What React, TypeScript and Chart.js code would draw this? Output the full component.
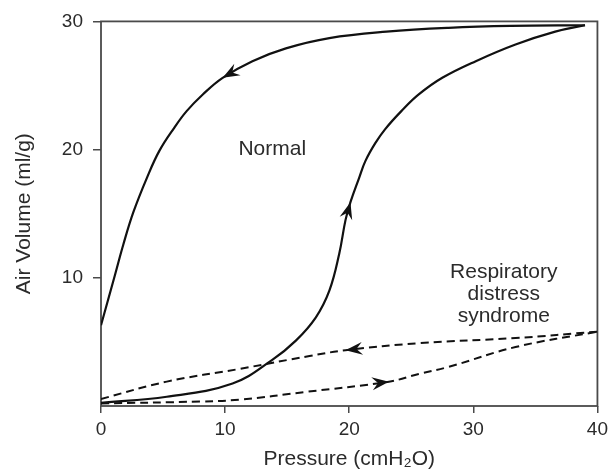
import React, { useEffect, useRef } from "react";
import { Chart, registerables } from "chart.js";

Chart.register(...registerables);

// ---- data ----
const xTickValues = [0, 10, 20, 30, 40];
const yTickValues = [10, 20, 30];

// Normal lung, deflation limb (drawn from 40 down to 0; listed by ascending pressure)
const normalDeflationP = [0, 1.12, 1.8, 2.6, 3.7, 4.7, 5.9, 6.9, 8.2, 9.8, 12.2, 14.9, 18.4, 23, 28, 33, 39.0];
const normalDeflationV = [6.3, 10.2, 12.6, 15.1, 17.8, 19.9, 21.7, 23.0, 24.3, 25.6, 26.9, 27.9, 28.7, 29.2, 29.5, 29.65, 29.7];

// Normal lung, inflation limb
const normalInflationP = [0, 5.3, 10.6, 13.8, 15.7, 17.3, 18.4, 19.2, 19.7, 20.1, 20.8, 21.3, 22.1, 22.9, 24.2, 25.6, 27.5, 30.2, 33.4, 36.6, 39.0];
const normalInflationV = [0.25, 0.72, 1.76, 3.6, 5.1, 6.9, 9.0, 11.9, 14.5, 15.9, 17.8, 19.1, 20.5, 21.6, 23.0, 24.3, 25.6, 26.9, 28.2, 29.2, 29.7];

// Respiratory distress syndrome, deflation limb (upper dashed)
const rdsDeflationP = [0, 5.3, 11.2, 16.8, 19.7, 25.6, 33.4, 40];
const rdsDeflationV = [0.55, 1.9, 2.9, 3.9, 4.35, 4.9, 5.3, 5.8];

// Respiratory distress syndrome, inflation limb (lower dashed)
const rdsInflationP = [0, 8, 11.2, 16.5, 23.2, 25.6, 28, 33.4, 40];
const rdsInflationV = [0.2, 0.35, 0.5, 1.1, 1.9, 2.5, 3.05, 4.6, 5.8];

// Arrowheads: tip position and a point behind the tip along the curve
const arrowTipP = [9.8, 20.1, 19.7, 23.2];
const arrowTipV = [25.6, 15.9, 4.35, 1.9];
const arrowTailP = [12.2, 19.7, 22, 20];
const arrowTailV = [26.9, 14.5, 4.6, 1.5];

// Annotations
const labelNormal = ["Normal"];
const labelNormalP = 13.8;
const labelNormalV = 20.0;
const labelRds = ["Respiratory", "distress", "syndrome"];
const labelRdsP = 32.45;
const labelRdsV = 10.4;

const toXY = (p: number[], v: number[]) => p.map((x, i) => ({ x, y: v[i] }));

const FONT = "'Liberation Sans', Arial, Helvetica, sans-serif";
const TEXT = "#2b2b2b";
const AXIS = "#4a4a4a";
const INK = "#111111";

const overlayPlugin = {
  id: "overlay",
  beforeDatasetsDraw(chart: any) {
    const { ctx, chartArea } = chart;
    ctx.save();
    ctx.strokeStyle = AXIS;
    ctx.lineWidth = 1.8;
    ctx.strokeRect(chartArea.left, chartArea.top, chartArea.right - chartArea.left, chartArea.bottom - chartArea.top);
    ctx.restore();
  },
  afterDatasetsDraw(chart: any) {
    const { ctx } = chart;
    const xs = chart.scales.x;
    const ys = chart.scales.y;
    ctx.save();
    // arrowheads
    ctx.fillStyle = INK;
    for (let i = 0; i < arrowTipP.length; i++) {
      const tx = xs.getPixelForValue(arrowTipP[i]);
      const ty = ys.getPixelForValue(arrowTipV[i]);
      const bx = xs.getPixelForValue(arrowTailP[i]);
      const by = ys.getPixelForValue(arrowTailV[i]);
      const ang = Math.atan2(ty - by, tx - bx);
      const len = 17;
      const half = 6.5;
      const notch = 11;
      ctx.save();
      ctx.translate(tx, ty);
      ctx.rotate(ang);
      ctx.beginPath();
      ctx.moveTo(0, 0);
      ctx.lineTo(-len, -half);
      ctx.lineTo(-notch, 0);
      ctx.lineTo(-len, half);
      ctx.closePath();
      ctx.fill();
      ctx.restore();
    }
    // labels
    ctx.fillStyle = TEXT;
    ctx.font = `21px ${FONT}`;
    ctx.textAlign = "center";
    ctx.textBaseline = "middle";
    const nx = xs.getPixelForValue(labelNormalP);
    const ny = ys.getPixelForValue(labelNormalV);
    labelNormal.forEach((t, i) => ctx.fillText(t, nx, ny + i * 22));
    const rx = xs.getPixelForValue(labelRdsP);
    const ry = ys.getPixelForValue(labelRdsV);
    labelRds.forEach((t, i) => ctx.fillText(t, rx, ry + i * 22));
    ctx.restore();
  },
};

export default function App() {
  const ref = useRef<HTMLCanvasElement | null>(null);

  useEffect(() => {
    if (!ref.current) return;
    const solid = { borderColor: INK, borderWidth: 2.2, showLine: true, pointRadius: 0, tension: 0.4 };
    const dashed = { ...solid, borderWidth: 2, borderDash: [8, 5] };
    const chart = new Chart(ref.current, {
      type: "scatter",
      data: {
        datasets: [
          { label: "Normal deflation", data: toXY(normalDeflationP, normalDeflationV), ...solid },
          { label: "Normal inflation", data: toXY(normalInflationP, normalInflationV), ...solid },
          { label: "RDS deflation", data: toXY(rdsDeflationP, rdsDeflationV), ...dashed },
          { label: "RDS inflation", data: toXY(rdsInflationP, rdsInflationV), ...dashed },
        ],
      },
      options: {
        animation: false,
        responsive: true,
        maintainAspectRatio: false,
        layout: { padding: { left: 0, right: 14, top: 20, bottom: 0 } },
        plugins: { legend: { display: false }, tooltip: { enabled: false } },
        scales: {
          x: {
            type: "linear",
            min: 0,
            max: 40,
            afterBuildTicks: (s: any) => {
              s.ticks = xTickValues.map((value) => ({ value }));
            },
            afterFit: (s: any) => {
              s.height = 67;
            },
            border: { display: false },
            grid: { drawOnChartArea: false, drawTicks: true, tickLength: 7, color: AXIS, lineWidth: 1.5 },
            ticks: { color: TEXT, font: { family: FONT, size: 19 }, padding: 5, maxRotation: 0 },
            title: {
              display: true,
              text: "Pressure (cmH₂O)",
              color: TEXT,
              font: { family: FONT, size: 21 },
              padding: { top: 0, bottom: 1 },
            },
          },
          y: {
            type: "linear",
            min: 0,
            max: 30,
            afterBuildTicks: (s: any) => {
              s.ticks = yTickValues.map((value) => ({ value }));
            },
            afterFit: (s: any) => {
              s.width = 101;
            },
            border: { display: false },
            grid: { drawOnChartArea: false, drawTicks: true, tickLength: 8, color: AXIS, lineWidth: 1.5 },
            ticks: { color: TEXT, font: { family: FONT, size: 19 }, padding: 10 },
            title: {
              display: true,
              text: "Air Volume (ml/g)",
              color: TEXT,
              font: { family: FONT, size: 21 },
              padding: { top: 12, bottom: 0 },
            },
          },
        },
      },
      plugins: [overlayPlugin],
    });
    return () => chart.destroy();
  }, []);

  return (
    <div style={{ position: "absolute", left: 0, top: 0, width: 613, height: 473, background: "#fff" }}>
      <canvas ref={ref} />
    </div>
  );
}
